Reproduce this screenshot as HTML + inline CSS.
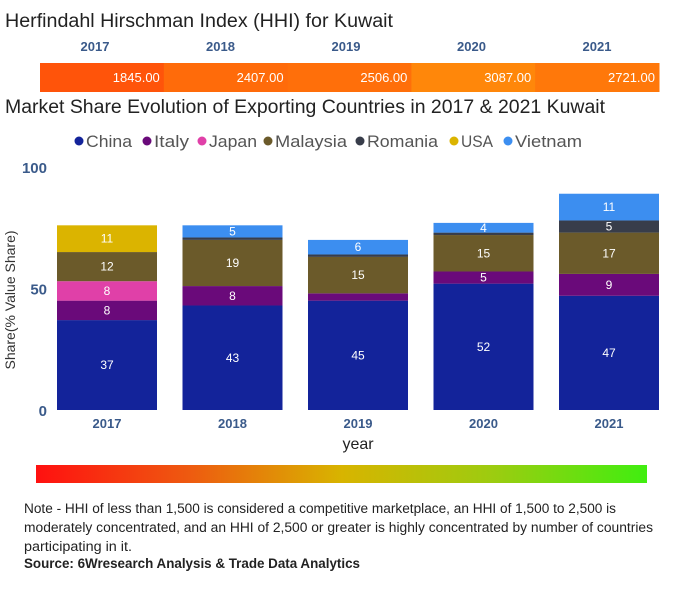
<!DOCTYPE html>
<html><head><meta charset="utf-8"><style>
body{margin:0;background:#fff;}
svg{display:block;font-family:"Liberation Sans",sans-serif;}
</style></head><body>
<svg id="c" width="686" height="600" viewBox="0 0 686 600">
<text x="5" y="27" font-size="19" fill="#222" textLength="388" lengthAdjust="spacingAndGlyphs">Herfindahl Hirschman Index (HHI) for Kuwait</text>
<g id="hhi"></g>
<text x="5" y="113" font-size="19" fill="#222" textLength="600" lengthAdjust="spacingAndGlyphs">Market Share Evolution of Exporting Countries in 2017 &amp; 2021 Kuwait</text>
<g id="legend"></g>
<g id="plot"></g>
<text x="0" y="0" transform="translate(15,300) rotate(-90)" text-anchor="middle" font-size="14" fill="#333">Share(% Value Share)</text>
<text x="358" y="449" text-anchor="middle" font-size="16" fill="#222">year</text>
<defs><linearGradient id="g" x1="0" x2="1"><stop offset="0" stop-color="#ff1010"/><stop offset="0.25" stop-color="#ee5a10"/><stop offset="0.5" stop-color="#d8b400"/><stop offset="0.75" stop-color="#9ccc10"/><stop offset="1" stop-color="#40ee10"/></linearGradient></defs>
<rect x="36" y="465" width="611" height="18" fill="url(#g)"/>
<g font-size="13.5" fill="#222">
<text x="24" y="513" textLength="592" lengthAdjust="spacingAndGlyphs">Note - HHI of less than 1,500 is considered a competitive marketplace, an HHI of 1,500 to 2,500 is</text>
<text x="24" y="532" textLength="629" lengthAdjust="spacingAndGlyphs">moderately concentrated, and an HHI of 2,500 or greater is highly concentrated by number of countries</text>
<text x="24" y="551" textLength="108" lengthAdjust="spacingAndGlyphs">participating in it.</text>
</g>
<text x="24" y="568" font-size="13.5" font-weight="bold" fill="#222" textLength="336" lengthAdjust="spacingAndGlyphs">Source: 6Wresearch Analysis &amp; Trade Data Analytics</text>
</svg>
<script>
const years=["2017","2018","2019","2020","2021"];
const hhiValues=[1845.00,2407.00,2506.00,3087.00,2721.00];
const seriesNames=["China","Italy","Japan","Malaysia","Romania","USA","Vietnam"];
const seriesColors=["#13239a","#6a0a7a","#e040a8","#6b5a2a","#383d4a","#dbb400","#3c8ef0"];
const china=[37,43,45,52,47];
const italy=[8,8,3,5,9];
const japan=[8,0,0,0,0];
const malaysia=[12,19,15,15,17];
const romania=[0,1,1,1,5];
const usa=[11,0,0,0,0];
const vietnam=[0,5,6,4,11];
const yTicks=[0,50,100];
const series=[china,italy,japan,malaysia,romania,usa,vietnam];
const NS="http://www.w3.org/2000/svg";
function mk(t,a,p){const e=document.createElementNS(NS,t);for(const k in a)e.setAttribute(k,a[k]);p.appendChild(e);return e;}
// HHI strip
const hhi=document.getElementById('hhi');
const hx0=40,hx1=659,hmin=1500,hmax=3200;
const segW=(hx1-hx0)/years.length;
function hhiColor(v){const t=Math.max(0,Math.min(1,(v-hmin)/(hmax-hmin)));const g=Math.round(70+t*70);return `rgb(255,${g},10)`;}
years.forEach((y,i)=>{
  const x=hx0+i*segW;
  const r=mk('rect',{x:x,y:63,width:segW+0.5,height:29,fill:hhiColor(hhiValues[i])},hhi);
  
  
  const t=mk('text',{x:x+segW-4,y:82,'text-anchor':'end','font-size':13,fill:'#fff'},hhi);
  t.textContent=hhiValues[i].toFixed(2);
  
  
  const yl=mk('text',{x:95+i*125.5,y:51,'text-anchor':'middle','font-size':13,'font-weight':'bold',fill:'#3a5a8a'},hhi);
  yl.textContent=y;
  
  
});
// legend
const lg=document.getElementById('legend');
const legendX=[79,147,202,268,360,454,508];
const legendW=[46,35,48,72,71,32,67];
seriesNames.forEach((n,i)=>{
  const lx=legendX[i];
  const c=mk('circle',{cx:lx,cy:141,r:4.5,fill:seriesColors[i]},lg);
  
  
  const t=mk('text',{x:lx+7,y:147,'font-size':17,fill:'#555',textLength:legendW[i],lengthAdjust:'spacingAndGlyphs'},lg);
  t.textContent=n;
  
  
});
// plot
const pl=document.getElementById('plot');
const y0=410,y100=167;
const yS=v=>y0-(v/100)*(y0-y100);
const xC=i=>107+i*125.5;
const bw=100;
yTicks.forEach(v=>{
  const t=mk('text',{x:47,y:yS(v)+6,'text-anchor':'end','font-size':15,'font-weight':'bold',fill:'#3a5a8a'},pl);
  t.textContent=v;
  
  
});
years.forEach((y,i)=>{
  let cum=0;
  series.forEach((s,k)=>{
    const v=s[i]; if(!v) return;
    const r=mk('rect',{x:xC(i)-bw/2,y:yS(cum+v),width:bw,height:yS(cum)-yS(cum+v),fill:seriesColors[k]},pl);
    
    
    if(v>=4){
      const t=mk('text',{x:xC(i),y:(yS(cum)+yS(cum+v))/2+4,'text-anchor':'middle','font-size':12,fill:'#fff'},pl);
      t.textContent=v;
      
      
    }
    cum+=v;
  });
  const xl=mk('text',{x:xC(i),y:428,'text-anchor':'middle','font-size':13,'font-weight':'bold',fill:'#3a5a8a'},pl);
  xl.textContent=y;
  
  
});
</script>
</body></html>
